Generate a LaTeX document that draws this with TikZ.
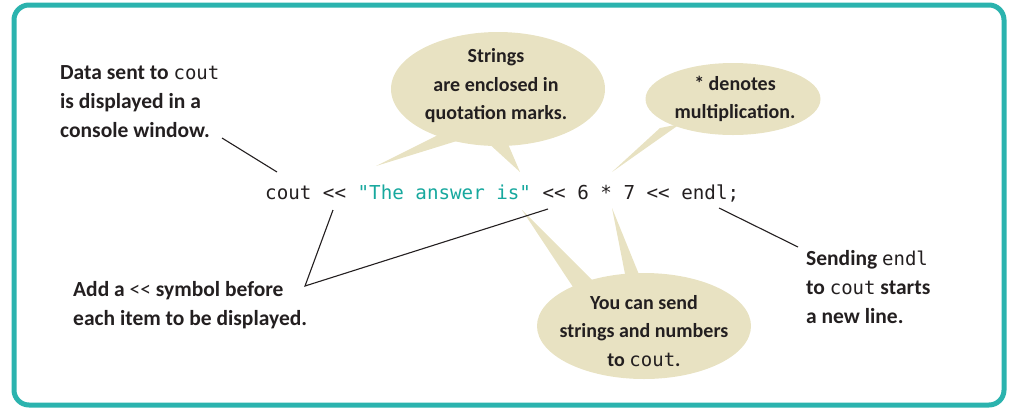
\documentclass[tikz,border=0pt]{standalone}
\usepackage{fontspec}
\setmainfont{Carlito}
\setmonofont{DejaVu Sans Mono}
\usetikzlibrary{shapes.geometric}
\definecolor{beige}{HTML}{E8E2C2}
\definecolor{framecol}{HTML}{2BB3AE}
\definecolor{strcol}{HTML}{17A89E}
\definecolor{ink}{HTML}{231F20}
\newcommand{\cd}[1]{{\mdseries\ttfamily\fontsize{19}{29}\selectfont #1}}
\begin{document}
\begin{tikzpicture}[x=1pt,y=-1pt,
  lbl/.style={font=\fontsize{21.5}{29}\selectfont\bfseries, text=ink, align=left, inner sep=0pt, anchor=base west},
  bubtext/.style={font=\fontsize{20}{28.5}\selectfont\bfseries, text=ink, align=center, inner sep=0pt},
  bubble/.style={ellipse, fill=beige, inner sep=0pt},
  spike/.style={fill=beige},
  conn/.style={draw=ink, line width=1.1pt}]
\useasboundingbox (0,0) rectangle (1009,408);
\draw[framecol, line width=5pt, rounded corners=15pt] (14,5) rectangle (1004,405);

% bubbles
\node[bubble, minimum width=214pt, minimum height=114pt] (sb) at (498,89) {};
\node[bubble, minimum width=175pt, minimum height=72pt] (mb) at (733,99) {};
\node[bubble, minimum width=214pt, minimum height=106pt] (yb) at (644,326) {};
\fill[spike] (376,166) -- (440,134) -- (460,140) -- cycle;
\fill[spike] (486,141) -- (508,144) -- (520,172) -- cycle;
\fill[spike] (612,172) -- (660,128) -- (680,124) -- cycle;
\fill[spike] (522,210) -- (575,290) -- (594,282) -- cycle;
\fill[spike] (612,208) -- (626,279) -- (640,277) -- cycle;

\node[bubtext] (st) at (496,86) {Strings\\are enclosed in\\quotation marks.};
\node[bubtext] (mt) at (735,99) {* denotes\\multiplication.};
\node[bubtext] (yt) at (644,331) {You can send\\strings and numbers\\to \cd{cout}.};

% code line
\node[anchor=base west, inner sep=0pt, font=\fontsize{19.2}{23}\selectfont\ttfamily, text=ink] (code) at (265,199)
  {cout << \textcolor{strcol}{"The answer is"} << 6 * 7 << endl;};

% labels
\node[lbl] (dl) at (60,137) {Data sent to \cd{cout}\\is displayed in a\\console window.};
\node[lbl] (al) at (73,325) {Add a {\mdseries{<}{<}} symbol before\\each item to be displayed.};
\node[lbl] (el) at (806,323) {Sending \cd{endl}\\to \cd{cout} starts\\a new line.};

% connectors
\coordinate (d1) at (222,138); \coordinate (d2) at (277,172);
\coordinate (a1) at (333,210); \coordinate (a2) at (305,286); \coordinate (a3) at (548,209);
\coordinate (e1) at (719,208); \coordinate (e2) at (798,247);
\draw[conn] (d1) -- (d2);
\draw[conn] (a1) -- (a2) -- (a3);
\draw[conn] (e1) -- (e2);
\end{tikzpicture}
\end{document}
